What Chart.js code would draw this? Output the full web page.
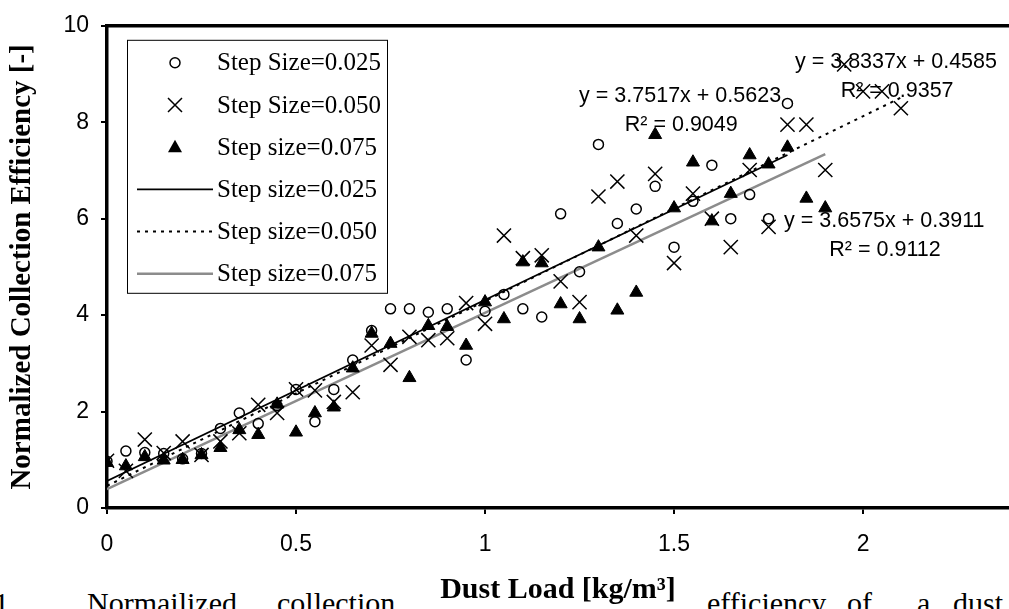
<!DOCTYPE html>
<html>
<head>
<meta charset="utf-8">
<script src="https://cdn.jsdelivr.net/npm/chart.js@4.4.1/dist/chart.umd.min.js"></script>
<style>
  html, body { margin: 0; padding: 0; background: #fff; overflow: hidden; }
  #wrap { position: relative; width: 1009px; height: 609px; }
  #chart { position: absolute; left: 0; top: 0; }
  .cap { position: absolute; top: 588px; font: 30px "Liberation Serif", "Times New Roman", serif; line-height: 30px; white-space: nowrap; color: #000; }
</style>
</head>
<body>
<div id="wrap">
  <span class="cap" style="left:-6px">1</span>
  <span class="cap" style="left:87px">Normailized</span>
  <span class="cap" style="left:277px">collection</span>
  <span class="cap" style="left:707px">efficiency</span>
  <span class="cap" style="left:847px">of</span>
  <span class="cap" style="left:917px">a</span>
  <span class="cap" style="left:953px">dust</span>
  <canvas id="chart" width="1009" height="609"></canvas>
</div>
<script>
// dust load grid [kg/m3]
const dustLoad = [0, 0.05, 0.1, 0.15, 0.2, 0.25, 0.3, 0.35, 0.4, 0.45,
    0.5, 0.55, 0.6, 0.65, 0.7, 0.75, 0.8, 0.85, 0.9, 0.95,
    1.0, 1.05, 1.1, 1.15, 1.2, 1.25, 1.3, 1.35, 1.4, 1.45,
    1.5, 1.55, 1.6, 1.65, 1.7, 1.75, 1.8, 1.85, 1.9, 1.95,
    2.0, 2.05, 2.1];

// normalized collection efficiency, one value per dust load step
const eff025 = [0.97, 1.18, 1.15, 1.13, 1.02, 1.13, 1.65, 1.97, 1.75, 2.12,
    2.46, 1.79, 2.46, 3.07, 3.68, 4.13, 4.13, 4.06, 4.13, 3.07,
    4.08, 4.43, 4.13, 3.96, 6.10, 4.90, 7.54, 5.90, 6.20, 6.67,
    5.41, 6.36, 7.11, 6.00, 6.50, 6.00, 8.39];
const eff050 = [0.98, 0.77, 1.42, 1.14, 1.38, 1.10, 1.38, 1.55, 2.14, 1.97,
    2.46, 2.44, 2.20, 2.40, 3.37, 2.97, 3.55, 3.48, 3.52, 4.25,
    3.82, 5.65, 5.18, 5.24, 4.70, 4.27, 6.46, 6.77, 5.65, 6.93,
    5.08, 6.52, 6.00, 5.41, 7.01, 5.83, 7.95, 7.95, 7.01, 9.20,
    8.64, 8.64, 8.29];
const eff075 = [0.94, 0.87, 1.06, 0.99, 1.00, 1.10, 1.25, 1.62, 1.52, 2.15,
    1.57, 1.97, 2.09, 2.90, 3.62, 3.41, 2.70, 3.78, 3.76, 3.37,
    4.27, 3.92, 5.10, 5.08, 4.23, 3.92, 5.41, 4.10, 4.47, 7.74,
    6.22, 7.17, 5.95, 6.52, 7.32, 7.13, 7.48, 6.42, 6.22];

// linear trend lines (end points)
const trendX025 = [0, 1.8];
const trendY025 = [0.56, 7.32];
const trendX050 = [0, 2.1];
const trendY050 = [0.46, 8.51];
const trendX075 = [0, 1.9];
const trendY075 = [0.39, 7.34];

const xTicks = [0, 0.5, 1, 1.5, 2];
const yTicks = [0, 2, 4, 6, 8, 10];

const seriesLabels = ['Step Size=0.025', 'Step Size=0.050', 'Step size=0.075',
    'Step size=0.025', 'Step size=0.050', 'Step size=0.075'];

// trend equations, anchored at [x, y] in data units
const eqText = ['y = 3.7517x + 0.5623', 'R\u00B2 = 0.9049',
    'y = 3.8337x + 0.4585', 'R\u00B2 = 0.9357',
    'y = 3.6575x + 0.3911', 'R\u00B2 = 0.9112'];
const eqX = [1.516, 1.519, 2.087, 2.09, 2.056, 2.058];
const eqY = [8.54, 7.95, 9.25, 8.64, 5.96, 5.35];

const sans = "'Liberation Sans', Arial, sans-serif";
const serif = "'Liberation Serif', 'Times New Roman', serif";

function pts(xs, ys) {
    return ys.map((v, i) => ({ x: xs[i], y: v }));
}

function drawMarker(ctx, style, x, y) {
    ctx.save();
    ctx.strokeStyle = '#000';
    ctx.fillStyle = '#000';
    ctx.lineWidth = 1.5;
    ctx.beginPath();
    if (style === 'circle') {
        ctx.arc(x, y, 5, 0, Math.PI * 2);
        ctx.stroke();
    } else if (style === 'crossRot') {
        ctx.moveTo(x - 7, y - 7); ctx.lineTo(x + 7, y + 7);
        ctx.moveTo(x + 7, y - 7); ctx.lineTo(x - 7, y + 7);
        ctx.stroke();
    } else if (style === 'triangle') {
        ctx.moveTo(x, y - 7.5); ctx.lineTo(x + 7, y + 5); ctx.lineTo(x - 7, y + 5);
        ctx.closePath();
        ctx.fill();
    }
    ctx.restore();
}

const frame = {
    id: 'frame',
    afterDraw(chart) {
        const ctx = chart.ctx;
        const a = chart.chartArea;
        ctx.save();
        ctx.strokeStyle = '#000';
        ctx.lineWidth = 3.5;
        ctx.beginPath();
        ctx.moveTo(a.left - 1.75, a.top);
        ctx.lineTo(a.right, a.top);
        ctx.stroke();
        ctx.restore();
    }
};

const equations = {
    id: 'equations',
    afterDatasetsDraw(chart) {
        const ctx = chart.ctx;
        ctx.save();
        ctx.font = '21.5px ' + sans;
        ctx.fillStyle = '#000';
        ctx.textAlign = 'center';
        ctx.textBaseline = 'middle';
        eqText.forEach((t, i) => {
            ctx.fillText(t, chart.scales.x.getPixelForValue(eqX[i]), chart.scales.y.getPixelForValue(eqY[i]));
        });
        ctx.restore();
    }
};

const boxLegend = {
    id: 'boxLegend',
    afterDatasetsDraw(chart) {
        const ctx = chart.ctx;
        const a = chart.chartArea;
        const x0 = a.left + 20, y0 = a.top + 14, w = 260, h = 253;
        ctx.save();
        ctx.fillStyle = '#fff';
        ctx.fillRect(x0, y0, w, h);
        ctx.strokeStyle = '#000';
        ctx.lineWidth = 1;
        ctx.strokeRect(x0 + 0.5, y0 + 0.5, w, h);
        ctx.font = '25px ' + serif;
        ctx.textBaseline = 'middle';
        chart.data.datasets.forEach((ds, i) => {
            const cy = y0 + 23 + i * 42.2;
            if (ds.showLine) {
                ctx.save();
                ctx.strokeStyle = ds.borderColor;
                ctx.lineWidth = ds.borderWidth;
                ctx.setLineDash(ds.borderDash || []);
                ctx.beginPath();
                ctx.moveTo(x0 + 10, cy);
                ctx.lineTo(x0 + 86, cy);
                ctx.stroke();
                ctx.restore();
            } else {
                drawMarker(ctx, ds.pointStyle, x0 + 48, cy);
            }
            ctx.fillStyle = '#000';
            ctx.fillText(ds.label, x0 + 90, cy + 1);
        });
        ctx.restore();
    }
};

const axisCommon = {
    grid: { drawOnChartArea: false, drawTicks: true, tickLength: 6, color: '#000', lineWidth: 2 },
    border: { display: true, color: '#000', width: 3.5 }
};

new Chart(document.getElementById('chart'), {
    type: 'scatter',
    data: {
        datasets: [
            { label: seriesLabels[0], data: pts(dustLoad, eff025), pointStyle: 'circle',
              pointRadius: 5, borderColor: '#000', backgroundColor: 'rgba(0,0,0,0)', borderWidth: 1.5 },
            { label: seriesLabels[1], data: pts(dustLoad, eff050), pointStyle: 'crossRot',
              pointRadius: 10, borderColor: '#000', backgroundColor: '#000', borderWidth: 1.5 },
            { label: seriesLabels[2], data: pts(dustLoad, eff075), pointStyle: 'triangle',
              pointRadius: 7.5, borderColor: '#000', backgroundColor: '#000', borderWidth: 1 },
            { label: seriesLabels[3], data: pts(trendX025, trendY025), showLine: true,
              pointRadius: 0, borderColor: '#000', borderWidth: 1.8 },
            { label: seriesLabels[4], data: pts(trendX050, trendY050), showLine: true,
              pointRadius: 0, borderColor: '#000', borderWidth: 2, borderDash: [3, 5] },
            { label: seriesLabels[5], data: pts(trendX075, trendY075), showLine: true,
              pointRadius: 0, borderColor: '#8c8c8c', borderWidth: 2.5 }
        ]
    },
    options: {
        responsive: false,
        animation: false,
        layout: { autoPadding: false, padding: { top: 16, left: 0, right: 0, bottom: 0 } },
        plugins: {
            legend: { display: false },
            tooltip: { enabled: false }
        },
        scales: {
            x: {
                type: 'linear',
                min: 0,
                max: 2.386,
                afterBuildTicks: s => { s.ticks = xTicks.map(v => ({ value: v })); },
                ticks: { color: '#000', font: { family: sans, size: 23 }, padding: 17,
                         callback: v => String(v) },
                grid: axisCommon.grid,
                border: axisCommon.border,
                title: { display: true, text: 'Dust Load [kg/m\u00B3]', color: '#000',
                         font: { family: serif, size: 30, weight: 'bold' }, padding: { top: 0, bottom: 1 } },
                afterFit: s => { s.height = 101; s.paddingRight = 0; }
            },
            y: {
                min: 0,
                max: 10,
                afterBuildTicks: s => { s.ticks = yTicks.map(v => ({ value: v })); },
                ticks: { color: '#000', font: { family: sans, size: 23 }, padding: 12,
                         callback: v => String(v) },
                grid: axisCommon.grid,
                border: axisCommon.border,
                title: { display: true, text: 'Normalized Collection Efficiency [-]', color: '#000',
                         font: { family: serif, size: 29, weight: 'bold' }, padding: { top: 5, bottom: 0 } },
                afterFit: s => { s.width = 107; }
            }
        }
    },
    plugins: [frame, equations, boxLegend]
});
</script>
</body>
</html>
